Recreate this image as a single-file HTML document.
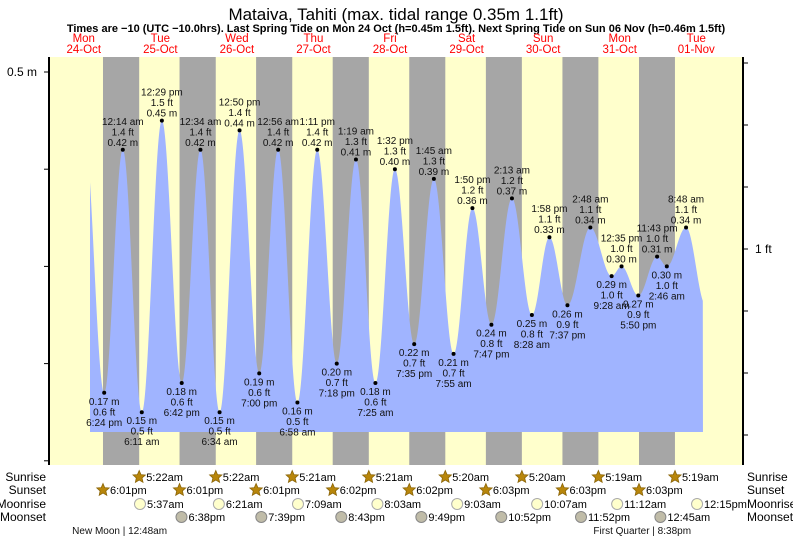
<!DOCTYPE html>
<html><head><meta charset="utf-8">
<style>
body{margin:0;background:#fff;}
svg{display:block;font-family:"Liberation Sans",sans-serif;}
</style></head>
<body>
<svg id="chart" width="793" height="539" viewBox="0 0 793 539" xmlns="http://www.w3.org/2000/svg">
<text x="396" y="20" text-anchor="middle" font-size="17">Mataiva, Tahiti (max. tidal range 0.35m 1.1ft)</text>
<text x="396" y="32" text-anchor="middle" font-size="11" font-weight="bold">Times are −10 (UTC −10.0hrs). Last Spring Tide on Mon 24 Oct (h=0.45m 1.5ft). Next Spring Tide on Sun 06 Nov (h=0.46m 1.5ft)</text>
<g id="bands"></g>
<g id="water"></g>
<g id="axes"></g>
<g id="labels"></g>
<g id="astro"></g>
</svg>
<script>
// ---- data ----
const dayNames = ["Mon","Tue","Wed","Thu","Fri","Sat","Sun","Mon","Tue"];
const dayDates = ["24-Oct","25-Oct","26-Oct","27-Oct","28-Oct","29-Oct","30-Oct","31-Oct","01-Nov"];
// tide events: hours since Mon 24-Oct 00:00
const tideHours = [12.1, 18.4, 24.23, 30.18, 36.48, 42.7, 48.57, 54.57, 60.83, 67.0, 72.93, 78.97, 85.18, 91.3, 97.32, 103.42, 109.53, 115.58, 121.75, 127.92, 133.83, 139.78, 146.22, 152.47, 157.97, 163.62, 170.8, 177.47, 180.58, 185.83, 191.72, 194.77, 200.8, 207.0];
const tideHeights = [0.44, 0.17, 0.42, 0.15, 0.45, 0.18, 0.42, 0.15, 0.44, 0.19, 0.42, 0.16, 0.42, 0.20, 0.41, 0.18, 0.40, 0.22, 0.39, 0.21, 0.36, 0.24, 0.37, 0.25, 0.33, 0.26, 0.34, 0.29, 0.30, 0.27, 0.31, 0.30, 0.34, 0.26];
const tideTimes = ["", "6:24 pm","12:14 am","6:11 am","12:29 pm","6:42 pm","12:34 am","6:34 am","12:50 pm","7:00 pm","12:56 am","6:58 am","1:11 pm","7:18 pm","1:19 am","7:25 am","1:32 pm","7:35 pm","1:45 am","7:55 am","1:50 pm","7:47 pm","2:13 am","8:28 am","1:58 pm","7:37 pm","2:48 am","9:28 am","12:35 pm","5:50 pm","11:43 pm","2:46 am","8:48 am",""];
const tideFeet = ["", "0.6","1.4","0.5","1.5","0.6","1.4","0.5","1.4","0.6","1.4","0.5","1.4","0.7","1.3","0.6","1.3","0.7","1.3","0.7","1.2","0.8","1.2","0.8","1.1","0.9","1.1","1.0","1.0","0.9","1.0","1.0","1.1",""];
const curveStart = 13.95, curveEnd = 206.1;
const sunriseH = [29.37,53.37,77.35,101.35,125.33,149.33,173.32,197.32];
const sunriseT = ["5:22am","5:22am","5:21am","5:21am","5:20am","5:20am","5:19am","5:19am"];
const sunsetH = [18.02,42.02,66.02,90.03,114.03,138.05,162.05,186.05];
const sunsetT = ["6:01pm","6:01pm","6:01pm","6:02pm","6:02pm","6:03pm","6:03pm","6:03pm"];
const moonriseH = [29.62,54.35,79.15,104.05,129.05,154.12,179.2,204.25];
const moonriseT = ["5:37am","6:21am","7:09am","8:03am","9:03am","10:07am","11:12am","12:15pm"];
const moonsetH = [42.63,67.65,92.72,117.82,142.87,167.87,192.75];
const moonsetT = ["6:38pm","7:39pm","8:43pm","9:49pm","10:52pm","11:52pm","12:45am"];
const phaseH = [24.8, 188.63];
const phaseT = ["New Moon | 12:48am","First Quarter | 8:38pm"];
const leftTicks = [0.5,0.4,0.3,0.2,0.1];

// ---- scales ----
const X0=45.5, PXH=3.19, PL=49, PR=743, PT=57, PB=465;
const x = t => X0 + t*PXH;
const y = h => 72 + (0.5-h)*972;
const NS="http://www.w3.org/2000/svg";
function mk(tag, attrs, parent, txt){const e=document.createElementNS(NS,tag);for(const k in attrs)e.setAttribute(k,attrs[k]);if(txt!==undefined)e.textContent=txt;parent.appendChild(e);return e;}

// bands
const bands=document.getElementById('bands');
const bg=mk('rect',{x:PL,y:PT,width:PR-PL,height:PB-PT,fill:'#ffffcc'},bands);


for(let i=0;i<sunsetH.length;i++){
  const a=x(sunsetH[i]);
  const b=i<sunriseH.length?Math.min(x(sunriseH[i]),PR):PR;
  const r=mk('rect',{x:a,y:PT,width:b-a,height:PB-PT,fill:'#a6a6a6'},bands);
  
  
}
// day labels
for(let i=0;i<dayNames.length;i++){
  const cx=x(i*24+12);
  const t1=mk('text',{x:cx,y:42,'text-anchor':'middle','font-size':'11.5',fill:'#ff0000'},bands,dayNames[i]);
  
  
  const t2=mk('text',{x:cx,y:53,'text-anchor':'middle','font-size':'11.5',fill:'#ff0000'},bands,dayDates[i]);
  
  
}

// water curve (cosine interpolation between extremes)
function hAt(t){
  for(let i=0;i<tideHours.length-1;i++){
    if(t>=tideHours[i]&&t<=tideHours[i+1]){
      const f=(t-tideHours[i])/(tideHours[i+1]-tideHours[i]);
      return tideHeights[i]+(tideHeights[i+1]-tideHeights[i])*(1-Math.cos(Math.PI*f))/2;
    }
  }
  return tideHeights[tideHeights.length-1];
}
let d=`M${x(curveStart)},432`;
for(let t=curveStart;t<=curveEnd;t+=0.1){d+=` L${x(t).toFixed(2)},${y(hAt(t)).toFixed(2)}`;}
d+=` L${x(curveEnd)},432 Z`;
const water=mk('path',{d:d,fill:'#a0b4ff'},document.getElementById('water'));



// axes
const ax=document.getElementById('axes');
const la=mk('line',{x1:PL,y1:PT,x2:PL,y2:PB,stroke:'#000','stroke-width':2},ax);


const ra=mk('line',{x1:PR,y1:PT,x2:PR,y2:PB,stroke:'#000','stroke-width':2},ax);


leftTicks.forEach((v,i)=>{
  const tk=mk('line',{x1:PL-5,y1:y(v),x2:PL,y2:y(v),stroke:'#000'},ax);
  
  
});
const lt=mk('text',{x:PL-12,y:y(0.5)+4,'text-anchor':'end','font-size':'12'},ax,'0.5 m');


for(let k=-3;k<=3;k++){
  const yy=249+k*62;
  const tk=mk('line',{x1:PR,y1:yy,x2:PR+5,y2:yy,stroke:'#000'},ax);
  
  
}
const rt=mk('text',{x:PR+12,y:253,'font-size':'12'},ax,'1 ft');



// tide labels
const lb=document.getElementById('labels');
for(let i=1;i<tideHours.length-1;i++){
  const px=x(tideHours[i]), py=y(tideHeights[i]);
  const high=tideHeights[i]>tideHeights[i-1];
  const dot=mk('circle',{cx:px,cy:py,r:2,fill:'#000'},lb);
  
  
  const lines=high?[tideTimes[i],tideFeet[i]+' ft',tideHeights[i].toFixed(2)+' m']:[tideHeights[i].toFixed(2)+' m',tideFeet[i]+' ft',tideTimes[i]];
  const base=high?py-25:py+12;
  lines.forEach((s,j)=>{
    const t=mk('text',{x:px,y:base+j*10.5,'text-anchor':'middle','font-size':'10',fill:'#111'},lb,s);
    
    
  });
}

// astro rows
const as=document.getElementById('astro');
const rows=[["Sunrise",477],["Sunset",490],["Moonrise",504],["Moonset",517]];
rows.forEach(r=>{
  const a=mk('text',{x:46,y:r[1]+4,'text-anchor':'end','font-size':'12'},as,r[0]);
  
  
  const b=mk('text',{x:747,y:r[1]+4,'font-size':'12'},as,r[0]);
  
  
});
function star(cx,cy){
  let p='';for(let k=0;k<10;k++){const a=-Math.PI/2+k*Math.PI/5;const rr=k%2?3:6.5;p+=(cx+rr*Math.cos(a)).toFixed(1)+','+(cy+rr*Math.sin(a)).toFixed(1)+' ';}
  return p;
}
function row(hrs,txts,yy,kind){
  hrs.forEach((h,i)=>{
    const px=x(h);
    let ic;
    if(kind==='sun'){ic=mk('polygon',{points:star(px,yy),fill:'#b8860b',stroke:'#8b6508','stroke-width':0.8},as);}
    else if(kind==='mr'){ic=mk('circle',{cx:px,cy:yy,r:5.5,fill:'#ffffcc',stroke:'#aaa'},as);}
    else {ic=mk('circle',{cx:px,cy:yy,r:5.5,fill:'#c0bca8',stroke:'#888'},as);}
    
    
    const t=mk('text',{x:px+7,y:yy+4,'font-size':'11'},as,txts[i]);
    
    
  });
}
row(sunriseH,sunriseT,477,'sun');
row(sunsetH,sunsetT,490,'sun');
row(moonriseH,moonriseT,504,'mr');
row(moonsetH,moonsetT,517,'ms');
phaseH.forEach((h,i)=>{
  const t=mk('text',{x:x(h)-5,y:534,'text-anchor':'middle','font-size':'10',fill:'#111'},as,phaseT[i]);
  
  
});
</script>
</body></html>
